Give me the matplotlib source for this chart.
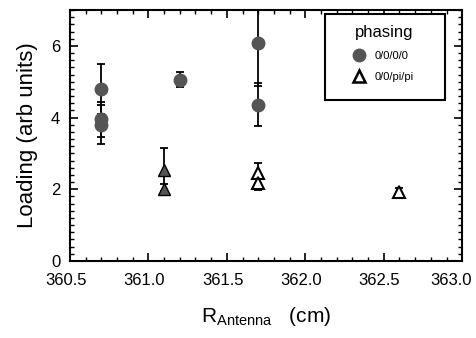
import matplotlib
matplotlib.use("Agg")
import matplotlib.pyplot as plt
import matplotlib.transforms as mtransforms
from matplotlib.ticker import MultipleLocator, FormatStrFormatter
from matplotlib.patches import Rectangle

plt.rcParams['font.family'] = ['Liberation Sans', 'DejaVu Sans']

# 0/0/0/0 phasing (filled circles)
circ_x = [360.7, 360.7, 360.7, 361.2, 361.7, 361.7]
circ_y = [4.8, 3.95, 3.8, 5.06, 6.08, 4.36]
circ_err = [0.7, 0.5, 0.55, 0.2, 1.2, 0.6]

# 0/0/pi/pi phasing (triangles)
tri_x = [361.1, 361.1, 361.7, 361.7, 362.6]
tri_y = [2.55, 2.0, 2.46, 2.18, 1.92]
tri_err = [0.6, 0.15, 0.28, 0.2, 0.12]
tri_filled = [True, True, False, False, False]

fig = plt.figure(figsize=(4.76, 3.38), dpi=100)
ax = fig.add_axes([0.147, 0.228, 0.824, 0.742])

gray = '#555555'
ax.errorbar(circ_x, circ_y, yerr=circ_err, fmt='none', ecolor='black',
            elinewidth=1.3, capsize=3, capthick=1.3, zorder=2)
ax.plot(circ_x, circ_y, 'o', color=gray, markeredgecolor=gray, markersize=9,
        linestyle='none', zorder=3, label='0/0/0/0')

ax.errorbar(tri_x, tri_y, yerr=tri_err, fmt='none', ecolor='black',
            elinewidth=1.3, capsize=3, capthick=1.3, zorder=2)
fx = [x for x, f in zip(tri_x, tri_filled) if f]
fy = [y for y, f in zip(tri_y, tri_filled) if f]
ox = [x for x, f in zip(tri_x, tri_filled) if not f]
oy = [y for y, f in zip(tri_y, tri_filled) if not f]
ax.plot(fx, fy, '^', color=gray, markeredgecolor='black', markersize=9,
        linestyle='none', zorder=3)
ax.plot(ox, oy, '^', markerfacecolor='white', markeredgecolor='black',
        markeredgewidth=1.5, markersize=9, linestyle='none', zorder=3)
ax.plot([], [], '^', markerfacecolor='white', markeredgecolor='black',
        markeredgewidth=1.8, markersize=8, linestyle='none', label='0/0/pi/pi')

ax.set_xlim(360.5, 363.0)
ax.set_ylim(0, 7)
ax.xaxis.set_major_locator(MultipleLocator(0.5))
ax.xaxis.set_minor_locator(MultipleLocator(0.1))
ax.yaxis.set_major_locator(MultipleLocator(2))
ax.yaxis.set_minor_locator(MultipleLocator(0.2))
ax.xaxis.set_major_formatter(FormatStrFormatter('%.1f'))
ax.tick_params(which='both', direction='in', top=True, right=True, labelsize=12)
ax.tick_params(axis='x', which='major', pad=9)
ax.tick_params(axis='y', which='major', pad=7)
ax.tick_params(which='major', length=6, width=1.2)
ax.tick_params(which='minor', length=3, width=1.0)
for s in ax.spines.values():
    s.set_linewidth(1.5)

ax.set_ylabel('Loading (arb units)', fontsize=16, labelpad=9)
ax.set_xlabel(r'R$_{\mathregular{Antenna}}$   (cm)', fontsize=15, labelpad=12)

# legend box (drawn manually to match the reference proportions)
ax.add_patch(Rectangle((0.651, 0.641), 0.306, 0.343, transform=ax.transAxes,
                       facecolor='white', edgecolor='black', linewidth=1.5,
                       zorder=4))
leg = ax.legend(title='phasing', loc='upper center', bbox_to_anchor=(0.800, 0.978),
                fontsize=8, title_fontsize=12, frameon=False,
                borderpad=0.3, handletextpad=0.9, labelspacing=1.0,
                handlelength=1.0)
leg.set_zorder(5)

# shift x tick labels slightly left as in the reference (last one more)
fig.canvas.draw()
labels = ax.xaxis.get_majorticklabels()
for i, lab in enumerate(labels):
    dx = -3 / 72 if lab.get_text() != '363.0' else -8 / 72
    lab.set_transform(lab.get_transform() +
                      mtransforms.ScaledTranslation(dx, 0, fig.dpi_scale_trans))

fig.savefig('out.png', dpi=100)
